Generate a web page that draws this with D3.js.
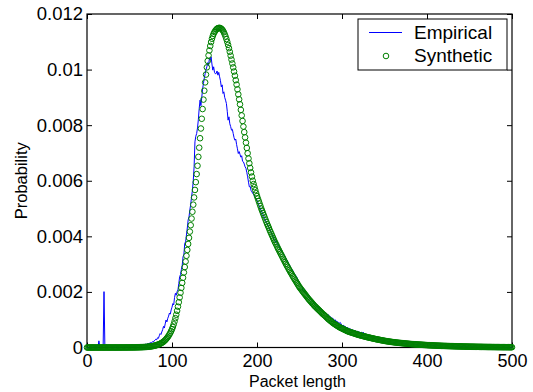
<!DOCTYPE html>
<html>
<head>
<meta charset="utf-8">
<script src="https://cdn.jsdelivr.net/npm/d3@7"></script>
<style>
  body { margin: 0; background: #fff; }
  text { font-family: "Liberation Sans", Arial, Helvetica, sans-serif; fill: #000; }
</style>
</head>
<body>
<svg id="chart" width="533" height="392"></svg>
<script>
// Probabilities are stored in units of 1e-6, one value per packet length 0..500
const empirical = [
  0,0,0,5,0,10,0,0,15,0,
  10,20,0,30,240,40,10,20,30,60,
  2010,90,20,110,40,30,20,10,30,20,
  20,10,30,10,20,30,10,20,10,30,
  20,30,20,10,30,20,40,20,30,20,
  30,40,20,50,30,40,60,30,50,60,
  50,70,60,80,60,90,80,110,90,120,
  110,140,120,160,150,180,170,210,200,240,
  260,300,280,350,330,420,500,470,560,640,
  760,700,850,990,920,1050,1130,1240,1200,1350,
  1450,1580,1530,1800,1950,1880,2010,2070,2300,2550,
  2620,2800,2950,3270,3350,3750,3800,4050,4300,4590,
  4700,4950,5150,5420,5650,6000,6500,7400,7600,7700,
  7900,8200,8600,8900,8700,9000,9300,9500,9700,9850,
  10000,10100,10250,10150,10400,10350,10460,10200,9980,10100,
  9900,9850,9860,9950,9800,9900,9740,9600,9380,9450,
  9140,9200,9000,8900,8780,8500,8180,8300,8050,7950,
  7820,7850,7700,7550,7460,7500,7300,7150,6980,7050,
  6950,6850,6900,6700,6680,6600,6500,6450,6300,6140,
  5950,5780,5800,5650,5600,5550,5500,5450,5400,5350,
  5300,5220,5140,5060,4990,4920,4850,4780,4710,4640,
  4560,4500,4450,4380,4320,4250,4180,4120,4050,3990,
  3900,3850,3790,3850,3720,3690,3650,3560,3540,3470,
  3420,3390,3300,3280,3200,3150,3100,3020,2990,2900,
  2870,2800,2780,2700,2650,2620,2560,2520,2430,2400,
  2300,2280,2200,2190,2050,2000,2100,1990,1960,1900,
  1850,1800,1740,1760,1700,1660,1640,1580,1560,1520,
  1470,1500,1420,1400,1380,1340,1350,1300,1290,1260,
  1230,1240,1190,1160,1180,1120,1110,1090,1040,1060,
  1010,980,1000,930,950,920,900,880,900,840,
  810,780,800,760,750,720,700,720,680,660,
  670,630,640,610,620,590,600,570,590,550,
  570,540,530,550,510,550,500,470,480,460,
  430,440,400,380,370,360,350,340,330,320,
  310,300,290,290,280,270,270,260,260,250,
  245,240,235,225,220,215,212,208,200,196,
  195,188,185,180,176,175,168,165,162,160,
  160,152,150,148,145,142,140,135,133,130,
  126,124,120,121,116,115,112,110,108,107,
  105,102,100,99,97,95,93,90,89,86,
  85,82,83,80,78,77,75,76,72,71,
  70,68,66,67,63,62,61,60,58,57,
  56,56,54,53,52,52,50,49,48,48,
  46,45,45,44,42,42,40,40,39,38,
  37,37,36,35,34,33,33,32,31,31,
  30,29,29,28,27,27,26,26,25,24,
  24,23,23,22,22,21,21,20,20,19,
  19,18,18,18,17,17,16,16,16,15,
  15,15,14,14,14,13,13,13,12,12,
  12,11,11,11,11,10,10,10,10,9,
  9
]

const synthetic = [
  0,0,0,0,0,0,0,0,0,0,
  0,0,0,0,0,0,0,0,0,0,
  0,0,0,0,0,0,0,0,0,0,
  0,0,0,0,0,0,0,0,0,0,
  1,1,1,1,1,1,2,2,2,2,
  3,3,3,4,4,4,5,5,6,7,
  8,9,10,11,12,13,15,16,18,20,
  22,25,28,31,35,39,44,49,55,62,
  69,77,87,97,108,121,135,151,168,188,
  210,236,265,298,335,376,422,472,528,590,
  660,740,832,937,1055,1180,1320,1470,1630,1800,
  1970,2145,2325,2510,2700,2895,3095,3300,3510,3725,
  3945,4170,4400,4640,4885,5140,5400,5670,5950,6240,
  6540,6860,7190,7530,7880,8230,8580,8920,9240,9540,
  9820,10080,10310,10510,10690,10850,10990,11110,11210,11290,
  11350,11400,11440,11470,11490,11500,11500,11490,11470,11440,
  11400,11340,11270,11190,11100,11000,10890,10770,10640,10500,
  10360,10220,10080,9930,9780,9620,9460,9290,9110,8930,
  8750,8550,8350,8150,7950,7750,7560,7370,7180,6990,
  6800,6630,6460,6300,6150,6000,5880,5770,5660,5550,
  5450,5360,5270,5180,5090,5000,4920,4840,4760,4680,
  4600,4520,4440,4370,4300,4220,4150,4080,4010,3940,
  3870,3800,3740,3680,3610,3550,3490,3430,3370,3310,
  3250,3190,3130,3070,3010,2950,2900,2840,2790,2730,
  2680,2630,2570,2520,2470,2420,2370,2320,2270,2220,
  2170,2130,2090,2050,2010,1970,1930,1890,1850,1810,
  1770,1730,1700,1660,1630,1590,1560,1520,1490,1460,
  1430,1400,1370,1340,1310,1280,1250,1220,1190,1170,
  1140,1110,1080,1050,1020,995,970,945,920,895,
  870,850,830,810,790,770,750,730,715,700,
  685,670,655,640,625,610,595,580,570,560,
  550,540,530,520,510,500,490,480,470,460,
  450,442,434,426,418,410,402,394,386,378,
  370,363,356,349,342,335,328,321,314,307,
  300,294,288,282,276,270,264,258,252,246,
  240,235,230,225,220,215,210,206,202,198,
  194,190,186,182,178,174,170,167,164,161,
  158,155,152,149,146,143,140,137,134,131,
  128,125,122,120,118,116,114,112,110,108,
  106,104,102,100,98,96,94,92,90,88,
  86,84,82,81,79,78,76,75,73,72,
  70,69,67,66,64,63,62,60,59,58,
  57,56,55,54,53,52,51,50,49,48,
  47,46,45,44,43,42,41,40,40,39,
  38,37,36,35,35,34,33,32,32,31,
  30,30,29,28,28,27,27,26,25,25,
  24,24,23,23,22,22,21,21,20,20,
  19,19,18,18,18,17,17,16,16,16,
  15,15,15,14,14,14,13,13,13,12,
  12,12,12,11,11,11,11,10,10,10,
  10
]

const seriesNames = ["Empirical", "Synthetic"]
const xTicks = [0, 100, 200, 300, 400, 500]
const yTicks = [0, 0.002, 0.004, 0.006, 0.008, 0.01, 0.012]
const yTickLabels = ["0", "0.002", "0.004", "0.006", "0.008", "0.01", "0.012"]
const xLabel = "Packet length"
const yLabel = "Probability"

// Plot area
let svg = d3.select("#chart")
let plotLeft = 87, plotRight = 512, plotTop = 14, plotBottom = 347.5

let x = d3.scaleLinear().domain([0, 500]).range([plotLeft, plotRight])
let y = d3.scaleLinear().domain([0, 0.012]).range([plotBottom, plotTop])

let points = empirical.map((v, i) => ({ len: i, p: v * 1e-6 }))
let synth = synthetic.map((v, i) => ({ len: i, p: v * 1e-6 }))

svg.append("rect")
  .attr("width", 533).attr("height", 392).attr("fill", "#fff")

// Ticks on all four sides, pointing inward (matlab style)
const tickLen = 5
svg.append("g")
    .attr("transform", "translate(0," + plotBottom + ")")
    .call(d3.axisBottom(x).tickValues(xTicks).tickSizeInner(-tickLen).tickSizeOuter(0).tickPadding(7))
    .call(g => g.select(".domain").remove())
    .selectAll("text").style("font-size", "18px").style("font-family", null)

svg.append("g")
    .attr("transform", "translate(" + plotLeft + ",0)")
    .call(d3.axisLeft(y).tickValues(yTicks).tickFormat((d, i) => yTickLabels[i])
      .tickSizeInner(-tickLen).tickSizeOuter(0).tickPadding(4))
    .call(g => g.select(".domain").remove())
    .selectAll("text").style("font-size", "18.5px").style("font-family", null)

svg.append("g")
    .attr("transform", "translate(0," + plotTop + ")")
    .call(d3.axisTop(x).tickValues(xTicks).tickFormat("").tickSizeInner(-tickLen).tickSizeOuter(0))
    .call(g => g.select(".domain").remove())

svg.append("g")
    .attr("transform", "translate(" + plotRight + ",0)")
    .call(d3.axisRight(y).tickValues(yTicks).tickFormat("").tickSizeInner(-tickLen).tickSizeOuter(0))
    .call(g => g.select(".domain").remove())

svg.selectAll(".tick line").attr("stroke", "#000").attr("stroke-width", 1)

// Box
svg.append("rect")
  .attr("x", plotLeft).attr("y", plotTop)
  .attr("width", plotRight - plotLeft).attr("height", plotBottom - plotTop)
  .attr("fill", "none").attr("stroke", "#000").attr("stroke-width", 1.2)

// Empirical line
let line = d3.line()
  .x(d => x(d.len))
  .y(d => y(d.p))

svg.append("path")
  .datum(points)
  .attr("d", line)
  .attr("fill", "none")
  .attr("stroke", "#0000ff")
  .attr("stroke-width", 1)

// Synthetic circles
svg.append("g")
  .selectAll("circle")
  .data(synth)
  .enter().append("circle")
    .attr("cx", d => x(d.len))
    .attr("cy", d => y(d.p))
    .attr("r", 2.8)
    .attr("fill", "none")
    .attr("stroke", "#008000")
    .attr("stroke-width", 1)

// Axis labels
svg.append("text")
  .attr("x", (plotLeft + plotRight) / 2 - 2)
  .attr("y", 386.5)
  .attr("text-anchor", "middle")
  .style("font-size", "16px")
  .text(xLabel)

svg.append("text")
  .attr("transform", "translate(27," + ((plotTop + plotBottom) / 2) + ") rotate(-90)")
  .attr("text-anchor", "middle")
  .style("font-size", "16.5px")
  .text(yLabel)

// Legend
let legend = svg.append("g")
legend.append("rect")
  .attr("x", 358).attr("y", 19)
  .attr("width", 149).attr("height", 51)
  .attr("fill", "#fff").attr("stroke", "#000").attr("stroke-width", 1)

legend.append("line")
  .attr("x1", 369).attr("x2", 402)
  .attr("y1", 32.5).attr("y2", 32.5)
  .attr("stroke", "#0000ff").attr("stroke-width", 1)

legend.append("circle")
  .attr("cx", 386).attr("cy", 56).attr("r", 2.8)
  .attr("fill", "none").attr("stroke", "#008000").attr("stroke-width", 1)

legend.selectAll(".legend-label")
  .data(seriesNames)
  .enter().append("text")
    .attr("class", "legend-label")
    .attr("x", 414)
    .attr("y", (d, i) => 38.5 + i * 23.5)
    .style("font-size", "19px")
    .text(d => d)
</script>
</body>
</html>
